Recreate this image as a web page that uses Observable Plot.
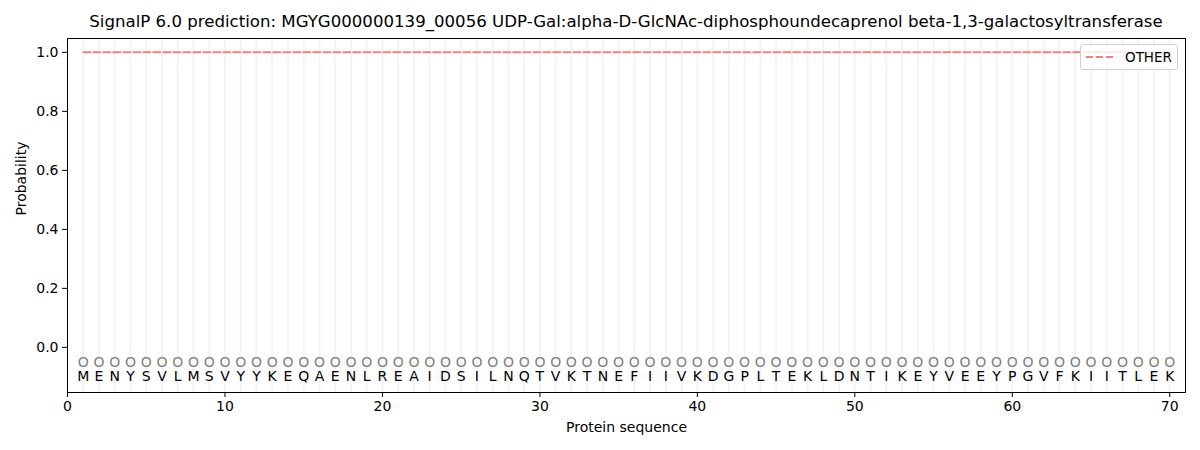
<!DOCTYPE html>
<html>
<head>
<meta charset="utf-8">
<script src="https://cdn.jsdelivr.net/npm/d3@7"></script>
<script src="https://cdn.jsdelivr.net/npm/@observablehq/plot@0.6"></script>
<style>
  body { margin: 0; background: #fff; font-family: "DejaVu Sans", sans-serif; }
  #wrap { position: relative; width: 1200px; height: 450px; }
  #title { height: 30px; font-size: 16.6px; color: #000; text-align: center; padding-left: 52px; box-sizing: border-box; white-space: nowrap; padding-top: 14px; line-height: 16px; }
  #legend { position: absolute; left: 1080px; top: 44px; width: 98px; height: 26px; border: 1px solid #d0d0d0; border-radius: 3px; background: rgba(255,255,255,0.8); box-sizing: border-box; font-size: 13.5px; }
  #legend svg { position: absolute; left: 4px; top: 10px; }
  #legend .tx { position: absolute; left: 44px; top: 4px; color: #000; }
</style>
</head>
<body>
<div id="wrap">
  <div id="title">SignalP 6.0 prediction: MGYG000000139_00056 UDP-Gal:alpha-D-GlcNAc-diphosphoundecaprenol beta-1,3-galactosyltransferase</div>
  <div id="chart"></div>
  <div id="legend"><svg width="30" height="4"><line x1="1" y1="2" x2="29" y2="2" stroke="#f08080" stroke-width="2" stroke-dasharray="7,3"/></svg><div class="tx">OTHER</div></div>
</div>
<script>
const sequence = "MENYSVLMSVYYKEQAENLREAIDSILNQTVKTNEFIIVKDGPLTEKLDNTIKEYVEEYPGVFKIITLEK".split("");
const positions = sequence.map((_, i) => i + 1);
const otherProb = positions.map(() => 1.0);
const circleLabel = "O";
const circleY = -0.05;
const letterY = -0.1;
const xTicks = [0, 10, 20, 30, 40, 50, 60, 70];
const yTicks = [0.0, 0.2, 0.4, 0.6, 0.8, 1.0];
const xLabel = "Protein sequence";
const yLabel = "Probability";

const residues = positions.map((p, i) => ({pos: p, aa: sequence[i], other: otherProb[i]}));

const chart = Plot.plot({
  width: 1200,
  height: 420,
  marginTop: 8,
  marginBottom: 58,
  marginLeft: 67,
  marginRight: 15,
  style: {fontFamily: "DejaVu Sans, sans-serif", fontSize: "14px", color: "#000", background: "#fff"},
  x: {domain: [0, 71], axis: null},
  y: {domain: [-0.153, 1.047], axis: null},
  marks: [
    Plot.ruleX(residues, {x: "pos", stroke: "#f4f4f4", strokeWidth: 2}),
    Plot.line(residues, {x: "pos", y: "other", stroke: "#f08080", strokeWidth: 2, strokeDasharray: "7,3"}),
    Plot.text(residues, {x: "pos", y: () => circleY, text: () => circleLabel, fill: "#808080", fontSize: 14}),
    Plot.text(residues, {x: "pos", y: () => letterY, text: "aa", fill: "#000", fontSize: 14}),
    Plot.axisX({ticks: xTicks, tickSize: 5, tickPadding: 4, tickFormat: d => String(d), label: null, fontSize: 14}),
    Plot.axisY({ticks: yTicks, tickSize: 5, tickPadding: 4, tickFormat: d3.format(".1f"), label: null, fontSize: 14}),
    Plot.text([xLabel], {frameAnchor: "bottom", text: d => d, dy: 39, fontSize: 14, fill: "#000"}),
    Plot.text([yLabel], {frameAnchor: "left", text: d => d, dx: -46, rotate: -90, fontSize: 14, fill: "#000"}),
    Plot.frame({stroke: "#000", strokeWidth: 1})
  ]
});
document.getElementById("chart").appendChild(chart);
</script>
</body>
</html>
